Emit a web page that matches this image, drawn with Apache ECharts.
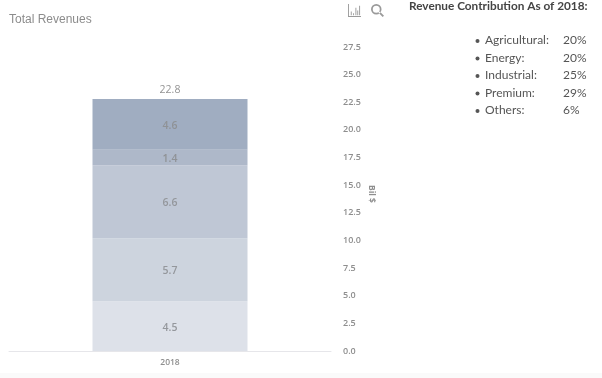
<!DOCTYPE html>
<html>
<head>
<meta charset="utf-8">
<style>
  html, body { margin: 0; padding: 0; background: #fff; }
  #myChart { width: 602px; height: 378px; }
</style>
<script src="https://cdn.jsdelivr.net/npm/echarts@6/dist/echarts.min.js"></script>
</head>
<body>
<div id="myChart"></div>
<script>
// data
const categories = ["2018"];
const segmentNames = ["Others", "Premium", "Industrial", "Energy", "Agricultural"];
const seg1 = [4.5];
const seg2 = [5.7];
const seg3 = [6.6];
const seg4 = [1.4];
const seg5 = [4.6];
const totals = [22.8];
const segColors = ["#dde1e9", "#cdd4de", "#bfc7d5", "#aeb8c9", "#a0adc1"];

const noteTitle = "Revenue Contribution As of 2018:";
const noteNames = ["Agricultural:", "Energy:", "Industrial:", "Premium:", "Others:"];
const noteValues = ["20%", "20%", "25%", "29%", "6%"];

const chart = echarts.init(document.getElementById("myChart"));

// faint strip along the bottom edge, then the side note on the right
let note = [{
  type: "rect", shape: { x: 0, y: 373, width: 602, height: 5 }, style: { fill: "#fafafa" }, silent: true
}, {
  type: "text", left: 409, top: 0,
  style: { text: noteTitle, font: "bold 11.8px Lato", fill: "#444" }
}];
noteNames.forEach((n, i) => {
  let y = 34.5 + i * 17.5;
  note.push({ type: "circle", shape: { cx: 477.5, cy: y + 6.5, r: 2 }, style: { fill: "#555" } });
  note.push({ type: "text", left: 485, top: y, style: { text: n, font: "12px Lato", fill: "#555" } });
  note.push({ type: "text", left: 563, top: y, style: { text: noteValues[i], font: "12px Lato", fill: "#555" } });
});

const segData = [seg1, seg2, seg3, seg4, seg5];
let series = segData.map((d, i) => ({
  name: segmentNames[i],
  type: "bar",
  stack: "total",
  barWidth: 155,
  data: d,
  itemStyle: { color: segColors[i] },
  label: {
    show: true,
    position: "inside",
    offset: [0, 1.5],
    fontFamily: "Open Sans",
    fontSize: 10.5,
    fontWeight: 600,
    color: i > 2 ? "#8f9296" : "#94979c"
  }
}));
// total on top of the stack
series.push({
  name: "Total",
  type: "scatter",
  symbolSize: 0,
  data: totals,
  label: {
    show: true,
    position: "top",
    distance: 3,
    fontFamily: "Open Sans",
    fontSize: 10.5,
    color: "#777"
  }
});

chart.setOption({
  animation: false,
  backgroundColor: "#fff",
  title: {
    text: "Total Revenues",
    left: 4,
    top: 9,
    textStyle: { fontFamily: "Liberation Sans", fontSize: 12, fontWeight: "normal", color: "#8c8c8c" }
  },
  toolbox: {
    right: 203,
    top: -11,
    itemSize: 13,
    itemGap: 10,
    feature: {
      myBar: {
        show: true,
        title: "",
        icon: "path://M1 0V14H15V13H2V0ZM4 8H5V12H4ZM6.5 10H7.5V12H6.5ZM9 4H10V12H9ZM11 7H12V12H11ZM13 2H14V12H13Z",
        onclick: function () {}
      },
      mySearch: {
        show: true,
        title: "",
        icon: "path://M6 0A6 6 0 1 0 6 12A6 6 0 1 0 6 0ZM6 2A4 4 0 1 1 6 10A4 4 0 1 1 6 2ZM10 8.5L14.8 13.3L13.3 14.8L8.5 10Z",
        onclick: function () {}
      }
    },
    iconStyle: { color: "#9a9a9a", borderColor: "#9a9a9a", borderWidth: 0 }
  },
  grid: { left: 9, right: 271, top: 47, bottom: 27 },
  xAxis: {
    type: "category",
    data: categories,
    axisLine: { lineStyle: { color: "#e6e6ea", width: 1 } },
    axisTick: { show: false },
    axisLabel: { margin: 7, fontFamily: "Open Sans", fontSize: 8.5, fontWeight: 600, color: "#8e8e8e" }
  },
  yAxis: {
    type: "value",
    position: "right",
    min: 0,
    max: 27.5,
    interval: 2.5,
    name: "Bil $",
    nameLocation: "middle",
    nameRotate: -90,
    nameGap: 36,
    nameMoveOverlap: false,
    nameTextStyle: { fontFamily: "Open Sans", fontSize: 8.5, fontWeight: 700, color: "#8e8e8e", padding: [0, 10, 0, 0] },
    axisLine: { show: false },
    axisTick: { show: false },
    splitLine: { show: false },
    axisLabel: {
      margin: 12,
      fontFamily: "Open Sans",
      fontSize: 9,
      fontWeight: 600,
      color: "#8e8e8e",
      formatter: v => v.toFixed(1)
    }
  },
  series: series,
  graphic: note
});
</script>
</body>
</html>
